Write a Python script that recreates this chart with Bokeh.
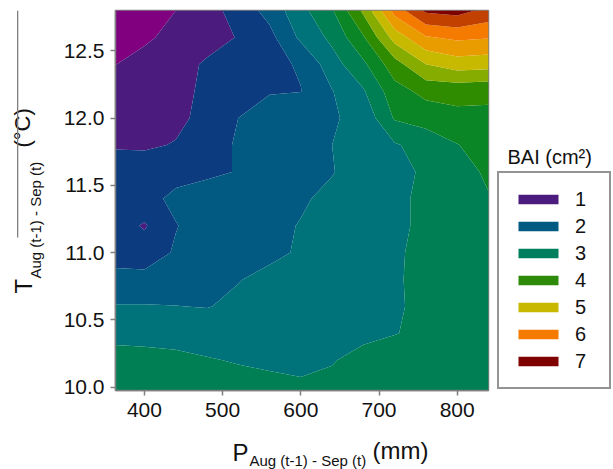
import numpy as np
from bokeh.plotting import figure
from bokeh.layouts import row, column
from bokeh.models import Label, Legend, LegendItem, BoxAnnotation, NumeralTickFormatter
from bokeh.embed import file_html
from bokeh.resources import INLINE

# Precipitation grid (mm) and temperature grid (degC)
P_GRID = [360, 400, 440, 480, 520, 560, 600, 640, 680, 720, 760, 800, 840]
T_GRID = [9.95, 10.2, 10.4, 10.6, 10.8, 11.0, 11.2, 11.4, 11.6, 11.8, 12.0, 12.2, 12.4, 12.6, 12.8]

# BAI (cm2), one list per temperature row (bottom -> top)
BAI_T100 = [3.40, 3.40, 3.35, 3.30, 3.20, 3.15, 3.10, 3.15, 3.30, 3.35, 3.35, 3.35, 3.30]
BAI_T102 = [3.20, 3.15, 3.11, 3.03, 2.97, 2.93, 2.90, 2.97, 3.16, 3.30, 3.30, 3.30, 3.30]
BAI_T104 = [2.85, 2.85, 2.83, 2.80, 2.78, 2.75, 2.75, 2.80, 2.88, 2.98, 3.12, 3.20, 3.30]
BAI_T106 = [2.53, 2.53, 2.51, 2.48, 2.60, 2.70, 2.75, 2.80, 2.88, 2.95, 3.10, 3.20, 3.30]
BAI_T108 = [2.15, 2.15, 2.25, 2.35, 2.48, 2.62, 2.70, 2.75, 2.85, 2.96, 3.10, 3.20, 3.30]
BAI_T110 = [1.80, 1.75, 2.05, 2.20, 2.30, 2.40, 2.55, 2.70, 2.80, 2.95, 3.10, 3.25, 3.35]
BAI_T112 = [1.75, 1.45, 1.98, 2.20, 2.30, 2.40, 2.52, 2.65, 2.75, 2.90, 3.10, 3.25, 3.40]
BAI_T114 = [1.70, 1.85, 2.10, 2.20, 2.25, 2.30, 2.45, 2.60, 2.75, 2.90, 3.10, 3.25, 3.47]
BAI_T116 = [1.60, 1.70, 1.85, 1.92, 2.02, 2.20, 2.30, 2.48, 2.70, 2.90, 3.05, 3.30, 3.58]
BAI_T118 = [1.48, 1.45, 1.52, 1.80, 2.05, 2.20, 2.30, 2.50, 2.70, 2.95, 3.20, 3.48, 3.75]
BAI_T120 = [1.20, 1.30, 1.42, 1.60, 2.00, 2.20, 2.35, 2.45, 2.65, 3.55, 3.70, 3.88, 3.90]
BAI_T122 = [1.10, 1.20, 1.35, 1.60, 1.85, 1.97, 1.99, 2.48, 2.95, 3.80, 4.15, 4.15, 4.10]
BAI_T124 = [0.98, 1.15, 1.35, 1.55, 1.75, 1.90, 2.04, 2.79, 3.40, 4.30, 5.00, 5.25, 5.20]
BAI_T126 = [0.80, 0.93, 1.13, 1.35, 1.52, 1.85, 2.60, 3.12, 3.95, 5.20, 5.95, 6.10, 6.03]
BAI_T128 = [0.70, 0.82, 1.00, 1.30, 1.70, 2.17, 2.85, 3.45, 4.60, 6.20, 7.10, 7.20, 6.85]

LEVELS = [0.5, 1.0, 1.5, 2.0, 2.5, 3.0, 3.5, 4.0, 4.5, 5.0, 5.5, 6.0, 6.5, 7.0, 7.5]
BAND_COLORS = ["#800080", "#4B1C7D", "#0D3B7F", "#025A82", "#00737A", "#007F55", "#0A8626",
               "#2F8C00", "#86AC00", "#C7B900", "#E99C00", "#F47B00", "#C24100", "#7F0000"]
LEGEND_LABELS = ["1", "2", "3", "4", "5", "6", "7"]
LEGEND_VALUES = [1, 2, 3, 4, 5, 6, 7]
LEGEND_COLORS = ["#4B1C7D", "#025A82", "#007F5F", "#2E8B0A", "#C8B800", "#F47B00", "#7F0000"]
X_TICKS = [400, 500, 600, 700, 800]
Y_TICKS = [10.0, 10.5, 11.0, 11.5, 12.0, 12.5]

z = np.array([BAI_T100, BAI_T102, BAI_T104, BAI_T106, BAI_T108, BAI_T110, BAI_T112,
              BAI_T114, BAI_T116, BAI_T118, BAI_T120, BAI_T122, BAI_T124, BAI_T126, BAI_T128])

FONT = "Liberation Sans"
TXT = "#111111"
ROW_H = 428
TOP_B, BOT_B = 10, 38          # same borders for every figure of the row
FRAME_BOTTOM = ROW_H - BOT_B   # page y of the frames' bottom edge
BASE_FIX = 0.35                # baseline correction (fraction of font size)


def blank(w, h, top=0, bottom=0, xr=(0, 1), yr=(0, 1)):
    f = figure(width=w, height=h, output_backend="svg", toolbar_location=None,
               x_axis_type=None, y_axis_type=None, min_border=0,
               x_range=xr, y_range=yr)
    f.min_border_left = 0
    f.min_border_right = 0
    f.min_border_top = top
    f.min_border_bottom = bottom
    f.outline_line_color = None
    f.grid.visible = False
    f.background_fill_color = "white"
    f.border_fill_color = "white"
    return f


def lab(f, text, x, y, size, rotated=False):
    fix = BASE_FIX * size
    if rotated:
        x, angle = x - fix, np.pi / 2
    else:
        y, angle = y + fix, 0.0
    f.add_layout(Label(x=x, y=y, x_units="screen", y_units="screen", text=text,
                       angle=angle, text_font=FONT, text_font_size=f"{size}px",
                       text_color=TXT, text_align="left", text_baseline="alphabetic"))


# ---- main contour plot ----
p = figure(width=440, height=ROW_H, x_range=(363, 840), y_range=(9.975, 12.8),
           output_backend="svg", toolbar_location=None,
           min_border_left=65, min_border_right=2, min_border_top=TOP_B, min_border_bottom=BOT_B)
p.background_fill_color = "white"
p.border_fill_color = "white"
p.outline_line_color = "#808080"
p.outline_line_width = 1.5
p.xgrid.visible = False
p.ygrid.visible = False

cr = p.contour(P_GRID, T_GRID, z, LEVELS, fill_color=BAND_COLORS, line_color=None)

for ax in (p.xaxis[0], p.yaxis[0]):
    ax.axis_line_color = "#808080"
    ax.axis_line_width = 1.5
    ax.major_tick_line_color = "#808080"
    ax.major_tick_line_width = 1.5
    ax.major_tick_out = 5
    ax.major_tick_in = 0
    ax.minor_tick_line_color = None
    ax.major_label_text_font = FONT
    ax.major_label_text_font_size = "21px"
    ax.major_label_text_color = TXT
p.xaxis.ticker = X_TICKS
p.yaxis.ticker = Y_TICKS
p.yaxis.formatter = NumeralTickFormatter(format="0.0")
p.xaxis.major_label_standoff = 7
p.yaxis.major_label_standoff = 6

# ---- y-axis label strip (page x 0..50) ----
ylab = blank(50, ROW_H, TOP_B, BOT_B)
lab(ylab, "T", 31, FRAME_BOTTOM - 293, 24, rotated=True)
lab(ylab, "Aug (t-1) - Sep (t)", 40, FRAME_BOTTOM - 278, 15, rotated=True)
lab(ylab, "(°C)", 30, FRAME_BOTTOM - 147, 22, rotated=True)
ylab.add_layout(BoxAnnotation(left=16.5, right=17.8, bottom=FRAME_BOTTOM - 237, top=FRAME_BOTTOM - 10,
                              left_units="screen", right_units="screen",
                              bottom_units="screen", top_units="screen",
                              fill_color="#808080", fill_alpha=1.0, line_color=None))

# ---- legend strip (page x 490..613) ----
legf = blank(123, ROW_H, TOP_B, BOT_B, xr=(0, 1), yr=(0, 1))
items = []
for lb, v, col in zip(LEGEND_LABELS, LEGEND_VALUES, LEGEND_COLORS):
    r = legf.quad(left=[v], right=[v], bottom=[v], top=[v], fill_color=col, line_color=None)
    items.append(LegendItem(label=lb, renderers=[r]))
legend = Legend(items=items, location=(7, 1), orientation="vertical",
                border_line_color="#2a2a2a", border_line_width=2,
                background_fill_color="white", background_fill_alpha=1.0,
                padding=14, spacing=3, margin=0,
                glyph_width=50, glyph_height=12, label_height=24, label_width=20,
                label_standoff=12, label_text_font=FONT, label_text_font_size="20px",
                label_text_color=TXT)
legf.add_layout(legend)
lab(legf, "BAI (cm²)", 17, FRAME_BOTTOM - 163, 20)

# ---- x-axis label strip (page y 428..469) ----
xlab = blank(613, 41)
lab(xlab, "P", 232, 9, 24)
lab(xlab, "Aug (t-1) - Sep (t)", 249, 4, 15)
lab(xlab, "(mm)", 372, 11, 24)

layout = column(row(ylab, p, legf, spacing=0), xlab, spacing=0)

open("out.html", "w").write(file_html(layout, INLINE))
